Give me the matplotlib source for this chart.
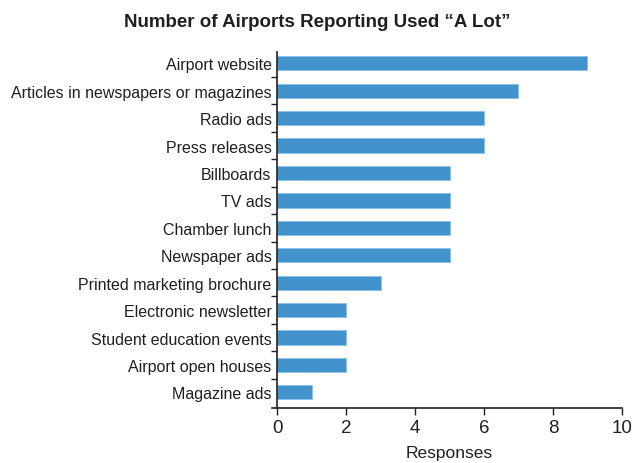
import numpy as np
import matplotlib.pyplot as plt
from matplotlib.ticker import FixedLocator

categories = ['Airport website', 'Articles in newspapers or magazines', 'Radio ads',
              'Press releases', 'Billboards', 'TV ads', 'Chamber lunch', 'Newspaper ads',
              'Printed marketing brochure', 'Electronic newsletter',
              'Student education events', 'Airport open houses', 'Magazine ads']
responses = [9, 7, 6, 6, 5, 5, 5, 5, 3, 2, 2, 2, 1]
xticks = [0, 2, 4, 6, 8, 10]

plt.rcParams['font.family'] = ['Liberation Sans', 'DejaVu Sans']
txt = '#231f20'

fig = plt.figure(figsize=(6.34, 4.64), dpi=100)
ax = fig.add_axes([0.437, 0.118, 0.544, 0.767])

y = np.arange(len(categories))
ax.barh(y, responses, height=0.52, color='#4292cc', edgecolor='#8cc0e8', linewidth=0.6)
ax.set_ylim(12.58, -0.4)
ax.set_xlim(0, 10)

ax.set_yticks(y)
ax.set_yticklabels(categories, fontsize=11.5, color=txt)
ax.tick_params(axis='y', length=0, pad=4)
ax.yaxis.set_minor_locator(FixedLocator(np.arange(0.5, len(categories) - 1, 1)))
ax.tick_params(axis='y', which='minor', length=4, width=1, color=txt)

ax.set_xticks(xticks)
ax.set_xticklabels([str(v) for v in xticks], fontsize=13.5, color=txt)
ax.tick_params(axis='x', length=5, width=1, color=txt, pad=3)
ax.set_xlabel('Responses', fontsize=12.5, color=txt, labelpad=6)

for s in ['top', 'right']:
    ax.spines[s].set_visible(False)
ax.spines['left'].set_color(txt)
ax.spines['bottom'].set_color(txt)
ax.spines['left'].set_linewidth(1.2)
ax.spines['bottom'].set_linewidth(1.2)
ax.spines['bottom'].set_bounds(-0.15, 10)
ax.spines['bottom'].set_clip_on(False)

fig.text(0.5, 0.952, 'Number of Airports Reporting Used \u201cA Lot\u201d',
         ha='center', va='center', fontsize=13.5, fontweight='bold', color=txt)

fig.savefig('out.png', dpi=100)
